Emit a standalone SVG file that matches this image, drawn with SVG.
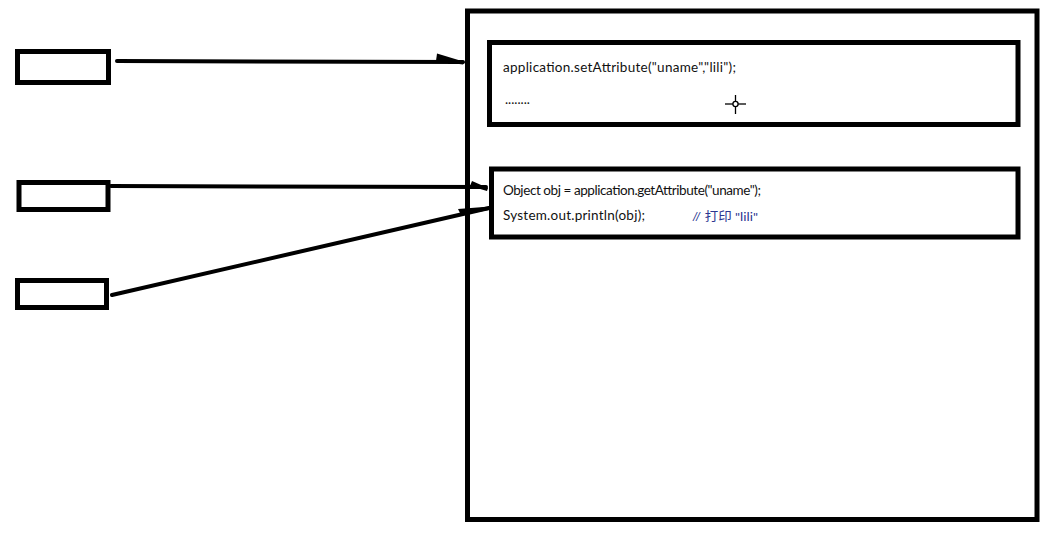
<svg xmlns="http://www.w3.org/2000/svg" width="1059" height="534" viewBox="0 0 1059 534">
  <style>
    .box { fill: #ffffff; stroke: #000000; stroke-width: 5; }
    .wire { fill: none; stroke: #000000; stroke-width: 4; stroke-linecap: round; }
    .barb { fill: #000000; stroke: none; }
    .code { font-family: Lato, "Liberation Sans", sans-serif; font-size: 13.5px; fill: #111111; }
    .note { font-family: Lato, "Noto Sans CJK SC", sans-serif; font-size: 12px; fill: #2b3590; }
  </style>
  <rect width="1059" height="534" fill="#ffffff"/>

  <!-- application scope container -->
  <g id="application">
    <rect class="box" x="467.5" y="11" width="569.5" height="508.5"/>
  </g>

  <!-- first page: stores the attribute -->
  <g id="page-set">
    <rect class="box" x="489.5" y="42.5" width="528.5" height="82"/>
    <text class="code" x="503" y="72" textLength="233" lengthAdjust="spacing">application.setAttribute("uname","lili");</text>
    <text class="code" x="505" y="104" font-size="10" textLength="25" lengthAdjust="spacingAndGlyphs">........</text>
    <!-- cursor crosshair -->
    <g stroke="#000000" stroke-width="1.3" fill="none">
      <line x1="725" y1="104" x2="746" y2="104"/>
      <line x1="735.5" y1="95" x2="735.5" y2="114"/>
      <circle cx="735.5" cy="104" r="2.6" fill="#ffffff"/>
    </g>
  </g>

  <!-- second page: reads the attribute -->
  <g id="page-get">
    <rect class="box" x="491.5" y="169" width="526.5" height="68"/>
    <text class="code" x="503" y="195" textLength="258" lengthAdjust="spacing">Object obj = application.getAttribute("uname");</text>
    <text class="code" x="503" y="220" textLength="142" lengthAdjust="spacing">System.out.println(obj);</text>
    <text class="note" x="692" y="221" textLength="66" lengthAdjust="spacingAndGlyphs">// 打印 "lili"</text>
  </g>

  <!-- clients -->
  <g id="client-1">
    <rect class="box" x="17.5" y="51.5" width="91" height="31"/>
  </g>
  <g id="client-2">
    <rect class="box" x="19" y="182.5" width="89" height="27"/>
  </g>
  <g id="client-3">
    <rect class="box" x="17.5" y="280.5" width="89" height="27"/>
  </g>

  <!-- requests -->
  <g id="connectors">
    <line class="wire" x1="117" y1="61" x2="463" y2="62"/>
    <polygon class="barb" points="437,53.5 465,62 463,64.5 436,61"/>

    <line class="wire" x1="111" y1="186" x2="486" y2="187"/>
    <polygon class="barb" points="472,181 488,188 487,191 470,186"/>

    <line class="wire" x1="112" y1="295" x2="489" y2="208"/>
    <polygon class="barb" points="458,209 490,206.5 489,210 461,215"/>
  </g>
</svg>
